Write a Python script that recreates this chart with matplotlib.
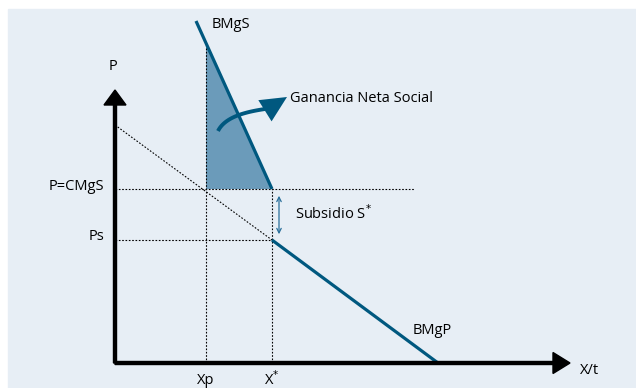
import numpy as np
import matplotlib.pyplot as plt
from matplotlib.patches import Rectangle, Polygon, FancyArrowPatch

plt.rcParams['font.family'] = ['Open Sans', 'DejaVu Sans']

# Valores (unidades arbitrarias, origen en los ejes)
xp = 91          # cantidad privada
xstar = 157      # cantidad óptima X*
p_cmgs = 174     # P = CMgS
ps = 123         # precio Ps
bmgs_x = [81, 157]
bmgs_y = [342, 174]
bmgp_x = [0, 157, 323]
bmgp_y = [238, 123, 0]
x_max = 455
y_max = 273

azul = '#00587f'
relleno = '#6b9bba'
fondo = '#e7eef5'

fig = plt.figure(figsize=(6.36, 3.88), dpi=100)
ax = fig.add_axes([0, 0, 1, 1])
ax.set_xlim(-115, 521)
ax.set_ylim(-25, 363)
ax.axis('off')

ax.add_patch(Rectangle((-107, -25), 628, 379, color=fondo, zorder=0))

# punto de BMgS a la altura de Xp
pend = (bmgs_y[1] - bmgs_y[0]) / (bmgs_x[1] - bmgs_x[0])
y_top = bmgs_y[0] + (xp - bmgs_x[0]) * pend

# Ganancia neta social
ax.add_patch(Polygon([(xp, y_top), (xp, p_cmgs), (xstar, p_cmgs)],
                     closed=True, color=relleno, lw=0, zorder=1))

dot = dict(color='black', lw=0.8, ls=(0, (1.5, 1.5)), zorder=2)
ax.plot([0, 300], [p_cmgs, p_cmgs], **dot)
ax.plot([0, xstar], [ps, ps], **dot)
ax.plot([xp, xp], [0, y_top], **dot)
ax.plot([xstar, xstar], [0, p_cmgs], **dot)
ax.plot(bmgp_x[:2], bmgp_y[:2], **dot)

# curvas
ax.plot(bmgs_x, bmgs_y, color=azul, lw=2.3, solid_capstyle='butt', zorder=3)
ax.plot(bmgp_x[1:], bmgp_y[1:], color=azul, lw=2.3, solid_capstyle='butt', zorder=3)

# ejes
ax.arrow(0, 0, x_max, 0, width=3, head_width=21, head_length=17,
         length_includes_head=True, color='black', zorder=4)
ax.arrow(0, 0, 0, y_max, width=3, head_width=22, head_length=15,
         length_includes_head=True, color='black', zorder=4)

# subsidio
ax.add_patch(FancyArrowPatch((164, p_cmgs - 4), (164, ps + 3), arrowstyle='<->',
                             mutation_scale=8, color='#2a6f9a', lw=0.9, zorder=3))

# flecha curva (bezier + punta)
ctrl = np.array([(103, 232), (110, 246), (130, 251), (150, 254)], dtype=float)
t = np.linspace(0, 1, 40)[:, None]
bez = ((1 - t) ** 3 * ctrl[0] + 3 * (1 - t) ** 2 * t * ctrl[1]
       + 3 * (1 - t) * t ** 2 * ctrl[2] + t ** 3 * ctrl[3])
ax.plot(bez[:, 0], bez[:, 1], color=azul, lw=2.8, solid_capstyle='butt', zorder=5)
punta = np.array([172, 266.0])
ang = np.deg2rad(32)
d = np.array([np.cos(ang), np.sin(ang)])
n = np.array([-d[1], d[0]])
base = punta - 26 * d
ax.add_patch(Polygon([punta, base + 12.5 * n, base - 12.5 * n], closed=True,
                     color=azul, lw=0, zorder=5))

fs = 10.5
ax.text(97, 339, 'BMgS', fontsize=fs, va='center', ha='left')
ax.text(175, 264, 'Ganancia Neta Social', fontsize=fs, va='center', ha='left')
ax.text(-2, 297, 'P', fontsize=fs, va='center', ha='center')
ax.text(-11, p_cmgs + 2, 'P=CMgS', fontsize=fs, va='center', ha='right')
ax.text(-11, ps + 3, 'Ps', fontsize=fs, va='center', ha='right')
ax.text(xp, -17, 'Xp', fontsize=fs, va='center', ha='center')
ax.text(xstar, -17, 'X$^{*}$', fontsize=fs, va='center', ha='center')
ax.text(180, 149, 'Subsidio S$^{*}$', fontsize=fs, va='center', ha='left')
ax.text(317, 32, 'BMgP', fontsize=fs, va='center', ha='center')
ax.text(465, -7, 'X/t', fontsize=fs, va='center', ha='left')

fig.savefig('out.png', dpi=100)
